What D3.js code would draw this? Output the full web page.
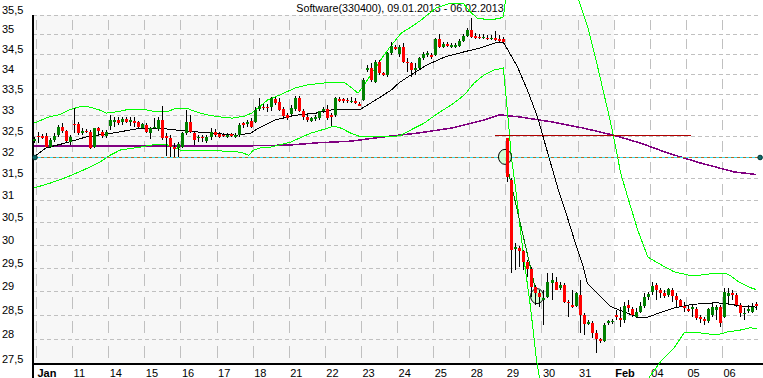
<!DOCTYPE html>
<html>
<head>
<meta charset="utf-8">
<script src="https://cdn.jsdelivr.net/npm/d3@7/dist/d3.min.js"></script>
<style>
  body { margin: 0; background: #fff; }
  svg { display: block; font-family: "Liberation Sans", Arial, sans-serif; }
</style>
</head>
<body>
<svg id="chart" width="763" height="378"></svg>
<script>
// values (hourly candles, 9 per trading day)
const title = "Software(330400), 09.01.2013 - 06.02.2013";
const dayLabels = ["Jan", "11", "14", "15", "16", "17", "18", "21", "22", "23", "24", "25", "28", "29", "30", "31", "Feb", "04", "05", "06"];
const monthLabels = ["Jan", "Feb"];
const priceTicks = [27.5, 28, 28.5, 29, 29.5, 30, 30.5, 31, 31.5, 32, 32.5, 33, 33.5, 34, 34.5, 35, 35.5];

const priceOpen = [32.38,32.50,32.49,32.49,32.24,32.40,32.51,32.71,32.62,32.36,
  32.78,32.78,32.59,32.62,32.59,32.24,32.68,32.59,32.49,32.73,
  32.83,32.88,32.83,32.89,32.82,32.86,32.82,32.68,32.76,32.56,
  32.68,32.65,32.88,32.49,32.44,32.23,32.20,32.23,32.56,32.83,
  32.56,32.46,32.48,32.37,32.47,32.59,32.54,32.52,32.47,32.53,
  32.47,32.51,32.80,32.78,32.86,32.83,33.13,33.20,33.19,33.20,
  33.38,33.32,33.14,33.00,33.02,33.14,33.42,33.10,32.94,32.86,
  32.90,32.93,33.08,33.13,33.00,32.99,33.38,33.38,33.36,33.32,
  33.33,33.26,33.36,34.10,34.14,33.81,34.31,34.02,33.98,34.52,
  34.69,34.49,34.69,34.31,34.27,34.10,34.14,34.39,34.48,34.48,
  34.48,34.88,34.69,34.75,34.69,34.69,34.71,34.83,34.96,35.11,
  34.96,34.94,34.91,34.91,34.88,34.90,34.88,34.88,32.44,31.46,
  29.93,29.93,29.86,29.64,29.49,29.10,28.97,28.82,28.89,29.17,
  29.21,29.07,29.14,28.78,28.71,28.69,28.92,28.50,28.32,28.33,
  28.14,28.00,27.97,28.33,28.35,28.50,28.44,28.39,28.71,28.62,
  28.47,28.57,28.69,28.89,28.99,29.14,29.02,28.97,28.92,29.03,
  28.90,28.81,28.69,28.62,28.62,28.62,28.47,28.42,28.37,28.50,
  28.60,28.68,28.47,28.90,28.96,28.92,28.71,28.52,28.59,28.57,
  28.74];
const priceHigh = [32.47,32.59,32.54,32.56,32.44,32.56,32.76,32.80,32.64,32.51,
  33.16,32.83,32.68,32.65,32.64,32.69,32.71,32.64,32.64,33.00,
  32.95,32.95,32.95,32.94,32.95,32.95,32.85,32.81,32.80,32.71,
  32.92,32.95,33.21,32.56,32.51,32.32,32.36,32.59,33.12,33.00,
  32.59,32.51,32.51,32.51,32.68,32.65,32.59,32.56,32.56,32.57,
  32.56,32.80,32.83,32.88,32.92,33.20,33.40,33.26,33.26,33.44,
  33.43,33.41,33.20,33.04,33.24,33.46,33.46,33.13,32.99,32.95,
  32.99,33.10,33.20,33.24,33.04,33.44,33.44,33.42,33.40,33.44,
  33.42,33.32,33.89,34.23,34.27,34.35,34.35,34.06,34.56,34.81,
  34.73,34.73,34.77,34.39,34.31,34.27,34.43,34.56,34.58,34.53,
  34.91,35.01,34.81,34.80,34.78,34.78,34.88,35.00,35.16,35.43,
  35.03,35.00,35.00,34.98,34.98,35.09,34.98,34.94,32.45,31.50,
  30.04,29.97,29.89,29.68,29.53,29.14,29.03,29.03,29.39,29.39,
  29.31,29.21,29.17,28.82,29.03,28.99,29.24,28.54,28.40,28.37,
  28.19,28.02,28.33,28.40,28.42,28.61,28.67,28.78,28.82,28.68,
  28.65,28.78,28.96,28.99,29.21,29.17,29.07,29.03,29.07,29.07,
  28.96,28.83,28.78,28.71,28.71,28.67,28.50,28.47,28.65,28.78,
  28.71,28.71,29.07,29.07,29.03,28.96,28.75,28.65,28.71,28.75,
  28.78];
const priceLow = [32.33,32.33,32.42,32.21,32.21,32.36,32.47,32.56,32.32,32.28,
  32.56,32.51,32.51,32.57,32.18,32.22,32.51,32.44,32.44,32.64,
  32.71,32.76,32.76,32.80,32.73,32.71,32.68,32.65,32.57,32.41,
  32.65,32.62,32.40,32.03,32.00,32.00,32.00,32.20,32.51,32.56,
  32.28,32.36,32.36,32.32,32.40,32.47,32.44,32.46,32.44,32.46,
  32.44,32.47,32.68,32.71,32.68,32.80,33.08,33.12,33.07,33.08,
  33.24,33.09,32.92,32.88,32.98,33.08,33.07,32.88,32.83,32.83,
  32.85,32.88,33.04,32.88,32.73,32.95,33.32,33.29,33.28,33.28,
  33.26,33.21,33.34,34.06,33.81,33.77,33.98,33.95,33.93,34.48,
  34.60,34.43,34.27,34.06,33.93,33.98,34.10,34.35,34.43,34.38,
  34.46,34.65,34.65,34.68,34.65,34.65,34.69,34.80,34.94,34.90,
  34.88,34.88,34.88,34.86,34.86,34.83,34.81,34.75,31.42,29.39,
  29.46,29.53,29.46,29.31,28.89,28.71,28.68,28.30,28.86,28.82,
  29.02,29.03,28.75,28.47,28.65,28.68,28.13,28.09,28.30,28.02,
  27.72,27.92,27.95,28.30,28.32,28.40,28.26,28.33,28.57,28.47,
  28.44,28.54,28.65,28.82,28.92,28.82,28.86,28.86,28.89,28.78,
  28.68,28.67,28.57,28.57,28.47,28.40,28.33,28.30,28.33,28.47,
  28.40,28.26,28.44,28.71,28.82,28.68,28.47,28.40,28.55,28.54,
  28.61];
const priceClose = [32.41,32.48,32.47,32.24,32.40,32.50,32.71,32.61,32.37,32.47,
  32.76,32.57,32.61,32.60,32.20,32.68,32.61,32.49,32.59,32.88,
  32.88,32.81,32.89,32.83,32.88,32.81,32.70,32.78,32.59,32.68,
  32.71,32.88,32.44,32.44,32.23,32.20,32.30,32.56,32.83,32.59,
  32.40,32.48,32.46,32.47,32.59,32.51,32.47,32.49,32.51,32.49,
  32.52,32.75,32.76,32.83,32.70,33.12,33.21,33.18,33.17,33.40,
  33.29,33.12,32.98,32.92,33.16,33.42,33.09,32.94,32.88,32.92,
  32.95,33.08,33.13,32.92,32.95,33.40,33.36,33.34,33.33,33.34,
  33.29,33.23,33.85,34.14,33.85,34.31,34.02,33.98,34.52,34.70,
  34.62,34.69,34.31,34.27,34.10,34.14,34.39,34.49,34.53,34.43,
  34.88,34.68,34.75,34.71,34.73,34.73,34.83,34.96,35.11,34.94,
  34.90,34.91,34.94,34.90,34.91,34.87,34.86,34.80,31.54,29.89,
  29.95,29.86,29.64,29.49,29.10,28.96,28.89,28.86,29.21,29.24,
  29.03,29.14,28.78,28.75,28.68,28.96,28.50,28.32,28.35,28.14,
  28.00,27.97,28.30,28.37,28.38,28.46,28.42,28.69,28.65,28.50,
  28.57,28.69,28.89,28.95,29.12,29.02,28.97,28.90,29.05,28.90,
  28.81,28.69,28.65,28.60,28.68,28.45,28.42,28.37,28.62,28.67,
  28.67,28.33,28.99,28.97,28.92,28.71,28.54,28.55,28.63,28.68,
  28.69];

// indicator lines, [candle index, price]
const avgShort = [[0,32.00],[3,32.21],[8,32.33],[13,32.47],[19.5,32.56],[25.5,32.66],[31,32.68],[38,32.61],
  [44.5,32.56],[50.5,32.51],[54,32.56],[56,32.68],[60.25,32.88],[65.25,32.99],[70.25,33.04],[75.25,33.14],
  [81.5,33.14],[84,33.29],[86,33.41],[89,33.60],[91,33.78],[94,33.98],[98,34.23],[102.5,34.43],[107,34.55],
  [111,34.65],[115,34.78],[117,34.80],[120.5,34.18],[123,33.60],[125.5,32.95],[128,32.11],[130.5,31.30],
  [133,30.60],[135.5,29.89],[137,29.50],[138,29.16],[140.5,28.95],[143.75,28.68],[147,28.57],[150.5,28.46],
  [153,28.46],[156,28.55],[159.5,28.65],[163,28.71],[166,28.74],[170,28.76],[173,28.74],[176,28.69],[180,28.67]];
const avgLong = [[0,32.25],[30,32.26],[54,32.26],[64,32.28],[70.5,32.33],[79,32.37],[87,32.47],[95.5,32.56],
  [104,32.68],[112,32.87],[116,33.00],[121,32.95],[129,32.83],[137,32.68],[144.5,32.51],[151,32.33],
  [158,32.09],[166,31.86],[174.5,31.65],[180,31.59]];
const bandUpper = [[0,32.80],[3.75,32.95],[6.25,33.00],[8.75,33.12],[11.25,33.19],[13.75,33.19],[16.25,33.12],
  [18,33.04],[20.5,33.07],[23,33.12],[25.5,33.14],[28,33.12],[30.5,33.07],[33,33.07],[35.5,33.16],[38,33.16],
  [40.5,33.07],[43,33.00],[46.25,32.95],[49.5,32.92],[52.5,32.97],[54.25,33.04],[56.75,33.24],[58.25,33.36],
  [61.25,33.48],[65,33.65],[68.25,33.73],[72.5,33.78],[75,33.80],[77.5,33.78],[79.25,33.65],[80.75,33.53],
  [82,33.68],[84.25,34.03],[86.75,34.40],[88.75,34.68],[91.5,35.03],[94,35.19],[96.5,35.37],[98,35.50],
  [100.25,35.68],[103.75,35.81],[107,35.81],[108.75,35.58],[110.5,35.42],[113.75,35.37],[116.25,35.42],
  [117,35.45],[118,36.3],[119,37.0],[121,37.4],[125,37.8],[129,37.5],[132,36.8],[134,36.3],[135.75,35.89],
  [138.25,35.11],[140.5,34.18],[143,33.12],[144.5,32.47],[146.25,31.62],[148,31.07],[150.5,30.33],
  [153,29.74],[155.5,29.61],[159.5,29.42],[163,29.35],[166.25,29.35],[170,29.39],[173,29.37],[175.75,29.20],
  [178.25,29.09],[180,29.04]];
const bandLower = [[0,31.28],[4,31.39],[8.25,31.53],[12.25,31.69],[16.5,31.88],[19,32.04],[21.5,32.16],
  [26.5,32.23],[30.75,32.30],[33.25,32.28],[36.5,32.16],[41.5,32.14],[46.5,32.14],[51.5,32.11],[53.5,32.04],
  [54.75,32.16],[56.5,32.21],[59,32.23],[64,32.35],[69,32.56],[73.25,32.68],[74.75,32.73],[76.5,32.68],
  [79,32.56],[81.5,32.47],[84.75,32.47],[89,32.47],[91.5,32.51],[94,32.64],[97.25,32.80],[100.75,33.04],
  [104,33.24],[107.25,33.48],[109.75,33.78],[112.25,33.98],[114.75,34.10],[117,34.15],[118,33.10],
  [119,32.00],[120,31.30],[121.25,30.33],[122.5,29.46],[123.75,28.68],[125.25,27.58],[126.5,27.0],
  [129,26.4],[133,26.0],[137,25.9],[141,26.1],[145,26.5],[149,26.9],[153.25,27.22],[156.5,27.58],
  [159.5,27.82],[162,28.13],[164.5,28.15],[170.25,28.09],[172.75,28.15],[176,28.19],[178.5,28.24],[180.25,28.22]];

// drawn-in objects
const levelLine = { value: 31.99, from: 0.25, to: 181 };
const gapLine = { value: 32.51, from: 114.9, to: 163.8 };
const trendLine = [[117.4, 32.0], [125.4, 28.90]];

// layout
const W = 763, H = 378;
const plotLeft = 33, plotTop = 15, plotBottom = 364, plotRight = 763;

const svg = d3.select("#chart");

// candle index -> x, day boundary lies between candle 9d and 9d+1
const x = d3.scaleLinear().domain([0.5, 171.5]).range([36, 722]);
const y = d3.scaleLog().domain([27.5, 35.5]).range([plotBottom, plotTop]);

const boundary = d => 9 * d + 0.5;
const febDay = dayLabels.indexOf("Feb");

// January shading
svg.append("rect")
  .attr("x", plotLeft).attr("y", plotTop)
  .attr("width", x(boundary(febDay)) - plotLeft)
  .attr("height", plotBottom - plotTop)
  .attr("fill", "#f7f7f7");

// horizontal dashed grid
svg.append("g")
  .attr("shape-rendering", "crispEdges")
  .selectAll("line")
  .data(priceTicks.slice(1))
  .join("line")
    .attr("x1", plotLeft).attr("x2", 760)
    .attr("y1", d => Math.round(y(d)) + 0.5)
    .attr("y2", d => Math.round(y(d)) + 0.5)
    .attr("stroke", "#c0c0c0")
    .attr("stroke-dasharray", "4,3");

// vertical grid, broken around each horizontal line
const vg = svg.append("g").attr("stroke", "#c0c0c0").attr("shape-rendering", "crispEdges");
dayLabels.forEach((lab, d) => {
  const gx = Math.round(x(boundary(d))) + 0.5;
  for (let k = 0; k < priceTicks.length - 1; k++) {
    const yb = y(priceTicks[k]), yt = y(priceTicks[k + 1]);
    const gap = (yb - yt) / 4;
    vg.append("line")
      .attr("x1", gx).attr("x2", gx)
      .attr("y1", yt + gap).attr("y2", yb - gap);
  }
});

// axes
svg.append("line")
  .attr("x1", plotLeft).attr("x2", plotLeft).attr("y1", plotTop).attr("y2", H)
  .attr("stroke", "#000").attr("stroke-width", 2);
svg.append("line")
  .attr("x1", plotLeft).attr("x2", plotRight).attr("y1", plotBottom).attr("y2", plotBottom)
  .attr("stroke", "#000").attr("stroke-width", 2);

// y labels
svg.append("g")
  .selectAll("text")
  .data(priceTicks)
  .join("text")
    .attr("x", 2)
    .attr("y", d => y(d) - 1)
    .attr("font-size", 11)
    .text(d => String(d).replace(".", ","));

// x labels
svg.append("g")
  .selectAll("text")
  .data(dayLabels)
  .join("text")
    .attr("x", (d, i) => x(boundary(i)) + 1.5)
    .attr("y", 377)
    .attr("font-size", 11)
    .attr("font-weight", d => monthLabels.includes(d) ? "bold" : "normal")
    .text(d => d);

// title
svg.append("text")
  .attr("x", 400).attr("y", 12)
  .attr("text-anchor", "middle")
  .attr("font-size", 10.7)
  .text(title);

const line = d3.line().x(d => x(d[0])).y(d => y(d[1]));

// indicator lines, drawn aliased like the original
const ind = svg.append("g").attr("fill", "none").attr("shape-rendering", "crispEdges");

// long average
ind.append("path").datum(avgLong)
  .attr("d", line)
  .attr("stroke", "#800080").attr("stroke-width", 1.5);

// bollinger bands
[bandUpper, bandLower].forEach(b => {
  ind.append("path").datum(b)
    .attr("d", line)
    .attr("stroke", "#00ff00").attr("stroke-width", 1);
});

// short average
ind.append("path").datum(avgShort)
  .attr("d", line)
  .attr("stroke", "#000").attr("stroke-width", 1);

// level line (cyan / brown dashes) with end dots
const ly = Math.round(y(levelLine.value)) + 0.5;
ind.append("line")
  .attr("x1", x(levelLine.from)).attr("x2", x(levelLine.to))
  .attr("y1", ly).attr("y2", ly)
  .attr("stroke", "#33ddee").attr("stroke-width", 1);
ind.append("line")
  .attr("x1", x(levelLine.from)).attr("x2", x(levelLine.to))
  .attr("y1", ly).attr("y2", ly)
  .attr("stroke", "#b06a20").attr("stroke-width", 1)
  .attr("stroke-dasharray", "3,3");
[levelLine.from, levelLine.to].forEach(v => {
  svg.append("circle")
    .attr("cx", x(v)).attr("cy", ly).attr("r", 2.3)
    .attr("fill", "#0b6b6b").attr("stroke", "#033");
});

// gap line
ind.append("line")
  .attr("x1", x(gapLine.from)).attr("x2", x(gapLine.to))
  .attr("y1", Math.round(y(gapLine.value)) + 0.5)
  .attr("y2", Math.round(y(gapLine.value)) + 0.5)
  .attr("stroke", "#b00000").attr("stroke-width", 1.5);

// trend line with circles
ind.append("path").datum(trendLine)
  .attr("d", line)
  .attr("stroke", "#008000").attr("stroke-width", 1);
trendLine.forEach(p => {
  svg.append("ellipse")
    .attr("cx", x(p[0])).attr("cy", y(p[1]))
    .attr("rx", 6.5).attr("ry", 7.5)
    .attr("fill", "#ccffcc").attr("fill-opacity", 0.85)
    .attr("stroke", "#000").attr("stroke-width", 1);
});

// candles
const candles = priceOpen.map((o, i) => ({ i, o, h: priceHigh[i], l: priceLow[i], c: priceClose[i] }));
const cg = svg.append("g").attr("shape-rendering", "crispEdges");
cg.selectAll("line")
  .data(candles)
  .join("line")
    .attr("x1", d => Math.round(x(d.i)) + 0.5)
    .attr("x2", d => Math.round(x(d.i)) + 0.5)
    .attr("y1", d => y(d.h))
    .attr("y2", d => y(d.l))
    .attr("stroke", "#000");
cg.selectAll("rect")
  .data(candles)
  .join("rect")
    .attr("x", d => Math.round(x(d.i)) - 1)
    .attr("width", 3)
    .attr("y", d => y(Math.max(d.o, d.c)))
    .attr("height", d => Math.max(1.5, Math.abs(y(d.o) - y(d.c))))
    .attr("fill", d => d.c >= d.o ? "#008000" : "#ff0000");
</script>
</body>
</html>
